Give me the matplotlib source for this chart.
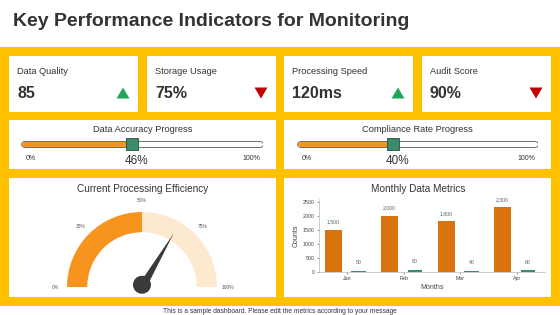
import numpy as np
import matplotlib
matplotlib.use('Agg')
import matplotlib.pyplot as plt
from matplotlib.patches import Rectangle, Wedge, Polygon, Circle

plt.rcParams['font.family'] = ['Liberation Sans', 'DejaVu Sans']

# ---- data ----
kpi_names = ['Data Quality', 'Storage Usage', 'Processing Speed', 'Audit Score']
kpi_values = ['85', '75%', '120ms', '90%']
kpi_trend = ['up', 'down', 'up', 'down']

progress_titles = ['Data Accuracy Progress', 'Compliance Rate Progress']
progress_values = [46, 40]

gauge_title = 'Current Processing Efficiency'
gauge_value = 67
gauge_ticks = [0, 25, 50, 75, 100]

months = ['Jan', 'Feb', 'Mar', 'Apr']
data_counts = [1500, 2000, 1800, 2300]
error_counts = [50, 80, 40, 60]

# ---- colours ----
YELLOW = '#FFC000'
ORANGE = '#F7941D'
PEACH = '#FDE9D0'
BAR_ORANGE = '#D9730D'
BAR_GREEN = '#3A8C6A'
DARK = '#333333'

W, H = 560, 315
fig = plt.figure(figsize=(W / 100, H / 100), dpi=100)
bg = fig.add_axes([0, 0, 1, 1])
bg.set_xlim(0, W)
bg.set_ylim(H, 0)
bg.axis('off')


def px_axes(x0, y0, x1, y1):
    # axes placed by pixel box (top-down y)
    return fig.add_axes([x0 / W, 1 - y1 / H, (x1 - x0) / W, (y1 - y0) / H])


def card(x0, y0, x1, y1):
    bg.add_patch(Rectangle((x0, y0), x1 - x0, y1 - y0, facecolor='white', edgecolor='none'))


# title + yellow band
bg.text(13, 22, 'Key Performance Indicators for Monitoring', fontsize=14,
        fontweight='bold', color=DARK, va='center', ha='left')
bg.add_patch(Rectangle((0, 47), W, 259, facecolor=YELLOW, edgecolor='none'))

# KPI cards
card_x = [(9, 138), (147, 276), (284, 413), (422, 551)]
for (x0, x1), name, val, tr in zip(card_x, kpi_names, kpi_values, kpi_trend):
    card(x0, 56, x1, 112)
    bg.text(x0 + 8, 72, name, fontsize=6.7, color=DARK, va='center')
    bg.text(x0 + 8, 93, val, fontsize=11.5, fontweight='bold', color=DARK, va='center')
    tx = x1 - 15
    if tr == 'up':
        tri = [(tx - 6.5, 98.5), (tx + 6.5, 98.5), (tx, 87.5)]
        c = '#1FA65A'
    else:
        tri = [(tx - 6.5, 87.5), (tx + 6.5, 87.5), (tx, 98.5)]
        c = '#C00000'
    bg.add_patch(Polygon(tri, closed=True, facecolor=c, edgecolor='none'))

# progress cards
prog_boxes = [(9, 276, 21, 263), (284, 551, 297, 538)]
for (cx0, cx1, bx0, bx1), title, val in zip(prog_boxes, progress_titles, progress_values):
    card(cx0, 120, cx1, 169)
    bg.text((cx0 + cx1) / 2, 129, title, fontsize=6.7, color=DARK, ha='center', va='center')
    pa = px_axes(bx0, 136, bx1, 152)
    pa.set_xlim(0, 100)
    pa.set_ylim(-1, 1)
    pa.axis('off')
    pa.plot([1.2, 98.8], [0, 0], color='#555555', lw=4.8, solid_capstyle='round')
    pa.plot([1.2, 98.8], [0, 0], color='white', lw=3.6, solid_capstyle='round')
    pa.plot([1.2, val], [0, 0], color=ORANGE, lw=3.6, solid_capstyle='round')
    pa.plot([val], [0], marker='s', ms=8, color=BAR_GREEN, mec='#2b4a3c', mew=0.6)
    bw = bx1 - bx0
    bg.text(bx0 + 10, 158, '0%', fontsize=5, color=DARK, ha='center', va='center')
    bg.text(bx1 - 12, 158, '100%', fontsize=5, color=DARK, ha='center', va='center')
    bg.text(bx0 + bw * val / 100 + 4, 161, '%d%%' % val, fontsize=8.5, color=DARK,
            ha='center', va='center')

# bottom cards
card(9, 178, 276, 297)
card(284, 178, 551, 297)

# gauge
bg.text(142.5, 189, gauge_title, fontsize=7.2, color=DARK, ha='center', va='center')
ga = px_axes(142 - 97.5, 197, 142 + 97.5, 300)
ga.set_xlim(-1.3, 1.3)
ga.set_ylim(-0.173, 1.2)
ga.axis('off')
ga.add_patch(Wedge((0, 0), 1, 90, 180, width=0.27, facecolor=ORANGE, edgecolor='none'))
ga.add_patch(Wedge((0, 0), 1, 0, 90, width=0.27, facecolor=PEACH, edgecolor='none'))
for t in gauge_ticks:
    a = np.radians(180 - t * 1.8)
    ga.text(1.15 * np.cos(a), 1.15 * np.sin(a), '%d%%' % t, fontsize=3.5,
            color='#555555', ha='center', va='center')
ang = np.radians(180 - gauge_value * 1.8)
perp = ang + np.pi / 2
needle = [(0.83 * np.cos(ang), 0.83 * np.sin(ang)),
          (0.055 * np.cos(perp), 0.055 * np.sin(perp)),
          (-0.055 * np.cos(perp), -0.055 * np.sin(perp))]
ga.add_patch(Polygon(needle, closed=True, facecolor='#3A3A3A', edgecolor='none'))
ga.add_patch(Circle((0, 0.03), 0.12, facecolor='#3A3A3A', edgecolor='none'))

# bar chart
bg.text(418, 189, 'Monthly Data Metrics', fontsize=7.2, color=DARK, ha='center', va='center')
ba = px_axes(319, 199, 545, 272)
x = np.arange(len(months))
b1 = ba.bar(x - 0.25, data_counts, width=0.3, color=BAR_ORANGE)
b2 = ba.bar(x + 0.2, error_counts, width=0.25, color=BAR_GREEN)
for bars, vals in [(b1, data_counts), (b2, error_counts)]:
    for r, v in zip(bars, vals):
        ba.annotate('{:,}'.format(v), (r.get_x() + r.get_width() / 2, v),
                    xytext=(0, 4), textcoords='offset points', ha='center',
                    va='bottom', fontsize=3.7, color='#4A6670')
ba.set_xlim(-0.5, 3.5)
ba.set_ylim(0, 2600)
ba.set_yticks([0, 500, 1000, 1500, 2000, 2500])
ba.set_xticks(x)
ba.set_xticklabels(months)
ba.tick_params(labelsize=3.8, colors='#444444', length=1.5, width=0.4, pad=1.5)
for s in ['top', 'right']:
    ba.spines[s].set_visible(False)
for s in ['left', 'bottom']:
    ba.spines[s].set_color('#BBBBBB')
    ba.spines[s].set_linewidth(0.5)
ba.set_ylabel('Counts', fontsize=5, color='#444444', labelpad=2)
ba.set_xlabel('Months', fontsize=5, color='#444444', labelpad=2)

# footer
bg.text(280, 311.5, 'This is a sample dashboard. Please edit the metrics according to your message',
        fontsize=4.8, color=DARK, ha='center', va='center')

fig.savefig('out.png', dpi=100)
